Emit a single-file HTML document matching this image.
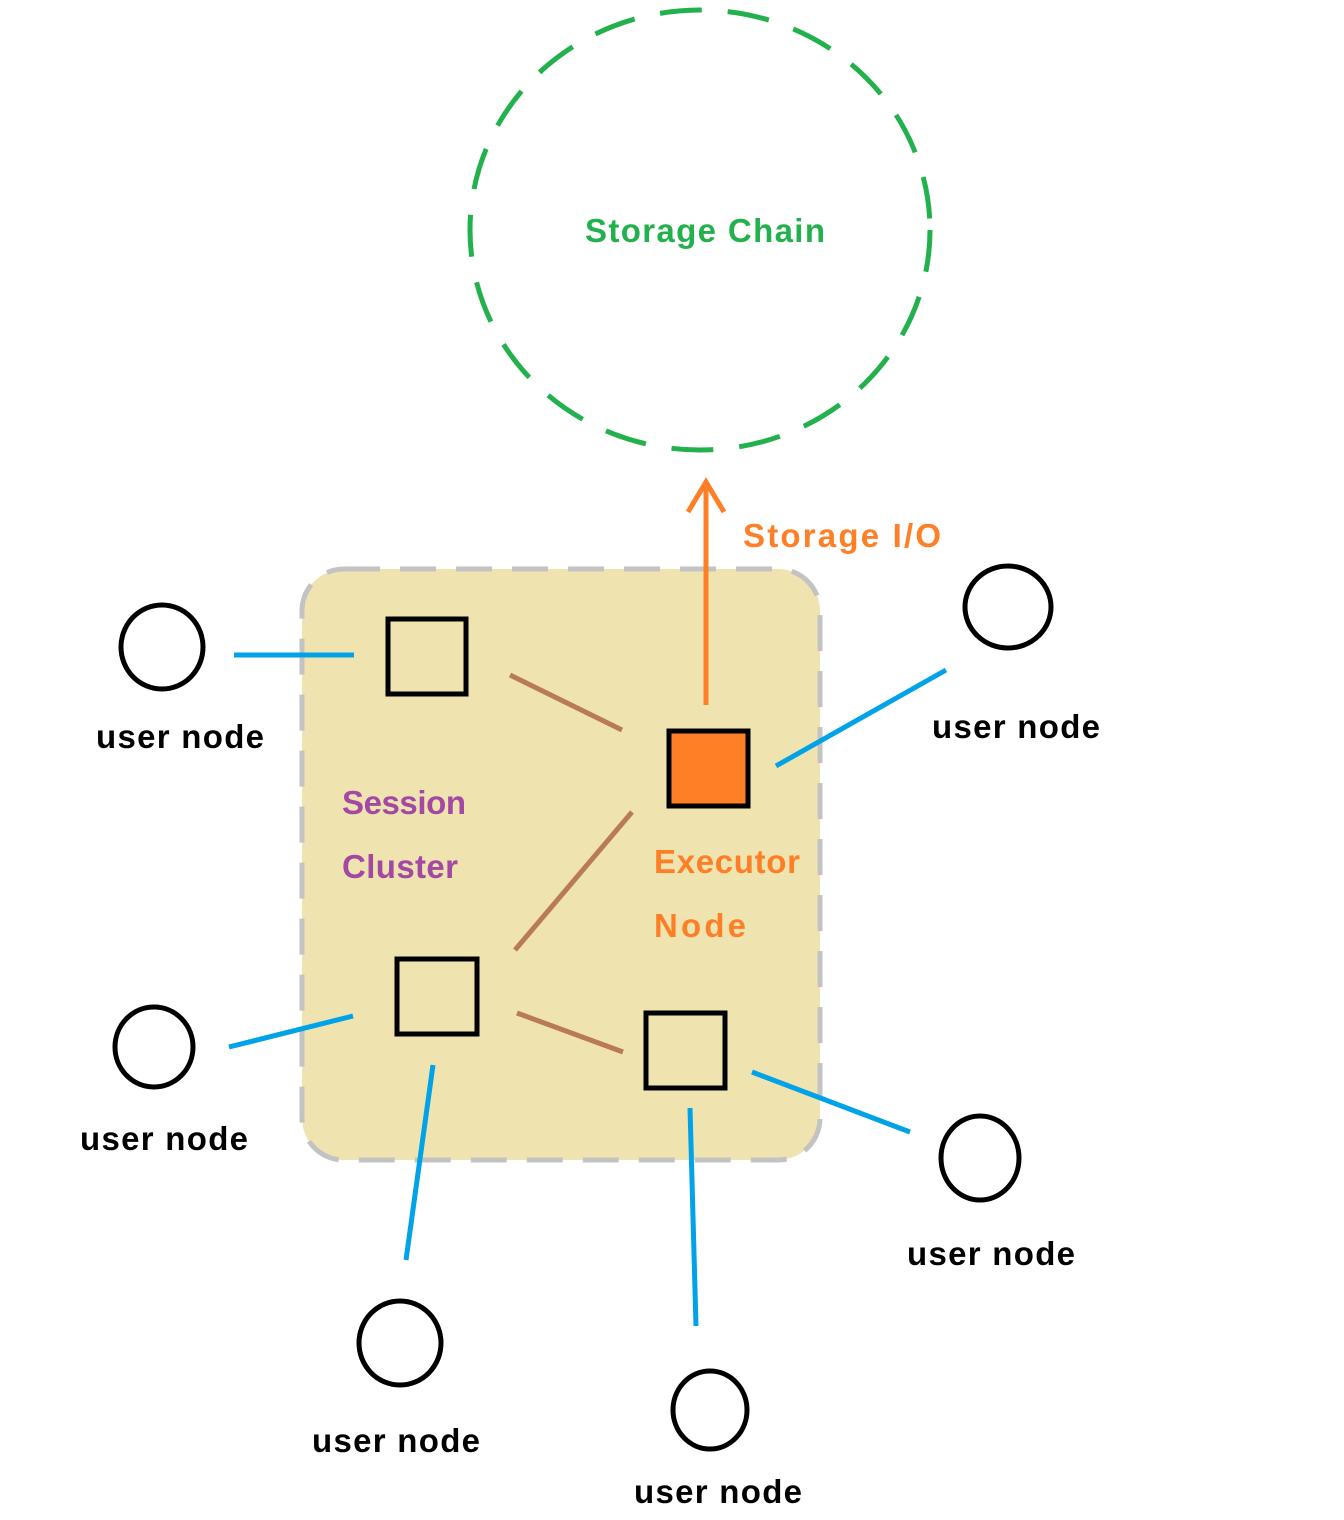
<!DOCTYPE html>
<html><head><meta charset="utf-8"><style>
html,body{margin:0;padding:0;background:#fff;}
svg{display:block;}
text{font-family:"Liberation Sans",sans-serif;font-weight:bold;font-size:33px;}
</style></head><body>
<svg width="1344" height="1520" viewBox="0 0 1344 1520">
<ellipse cx="700" cy="230" rx="230" ry="220" fill="none" stroke="#22b14c" stroke-width="5" stroke-dasharray="42 26"/>
<text x="585" y="242" fill="#22b14c" textLength="240">Storage Chain</text>
<rect x="302" y="569" width="518" height="591" rx="42" fill="#efe4b0" stroke="#c3c3c3" stroke-width="5" stroke-dasharray="36 20"/>
<g stroke="#ff7f27" stroke-width="5" fill="none">
<line x1="706" y1="705" x2="706" y2="482"/>
<polyline points="688,512 706,482 724,512"/>
</g>
<text x="743" y="547" fill="#ff7f27" textLength="198">Storage I/O</text>
<g stroke="#b97a57" stroke-width="5">
<line x1="510" y1="675" x2="622" y2="730"/>
<line x1="632" y1="812" x2="515" y2="950"/>
<line x1="517" y1="1013" x2="623" y2="1052"/>
</g>
<g stroke="#00a2e8" stroke-width="5">
<line x1="234" y1="655" x2="354" y2="655"/>
<line x1="776" y1="766" x2="946" y2="670"/>
<line x1="229" y1="1047" x2="353" y2="1016"/>
<line x1="433" y1="1065" x2="406" y2="1260"/>
<line x1="690" y1="1108" x2="696" y2="1326"/>
<line x1="752" y1="1072" x2="910" y2="1132"/>
</g>
<g stroke="#000" stroke-width="5">
<rect x="388" y="619" width="78" height="75" fill="none"/>
<rect x="669" y="731" width="79" height="75" fill="#ff7f27"/>
<rect x="397" y="959" width="80" height="75" fill="none"/>
<rect x="646" y="1013" width="79" height="75" fill="none"/>
<ellipse cx="162" cy="647" rx="41" ry="42" fill="none"/>
<ellipse cx="1008" cy="607" rx="43" ry="41" fill="none"/>
<ellipse cx="154" cy="1047" rx="39" ry="40" fill="none"/>
<ellipse cx="400" cy="1343" rx="41" ry="42" fill="none"/>
<ellipse cx="710" cy="1410" rx="37" ry="39" fill="none"/>
<ellipse cx="980" cy="1158" rx="39" ry="42" fill="none"/>
</g>
<text x="342" y="814" fill="#a349a4" textLength="124">Session</text>
<text x="342" y="878" fill="#a349a4" textLength="116">Cluster</text>
<text x="654" y="873" fill="#ff7f27" textLength="146">Executor</text>
<text x="654" y="937" fill="#ff7f27" textLength="92">Node</text>
<g fill="#000">
<text x="96" y="748" textLength="168">user node</text>
<text x="932" y="738" textLength="168">user node</text>
<text x="80" y="1150" textLength="168">user node</text>
<text x="312" y="1452" textLength="168">user node</text>
<text x="634" y="1503" textLength="168">user node</text>
<text x="907" y="1265" textLength="168">user node</text>
</g>
</svg>
</body></html>
